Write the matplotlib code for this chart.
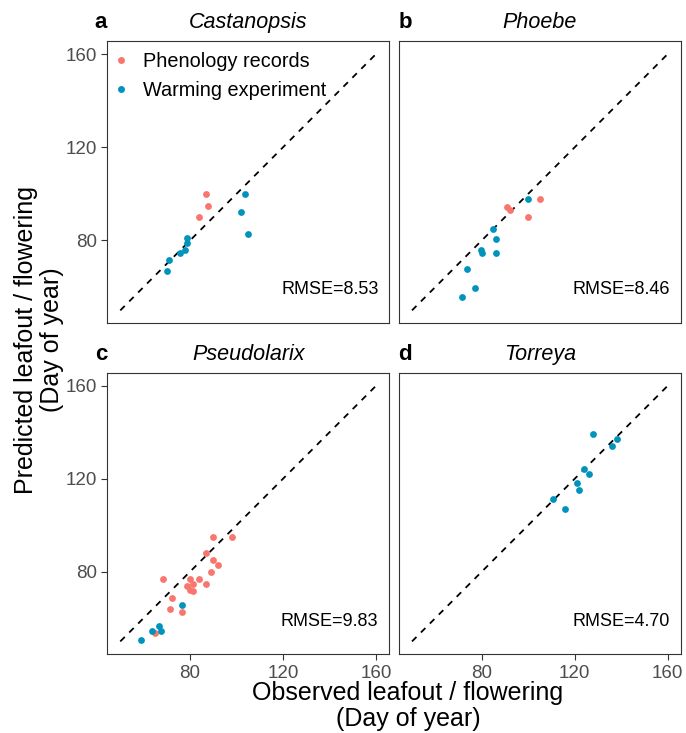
import matplotlib.pyplot as plt
from matplotlib.lines import Line2D

plt.rcParams['font.family'] = ['Liberation Sans', 'DejaVu Sans']

RED = '#F8766D'
BLUE = '#0094BD'

# --- data (observed DOY, predicted DOY) ---
a_rec_x = [86.9, 87.9, 83.9]
a_rec_y = [100.0, 94.9, 89.9]
a_exp_x = [103.8, 102.1, 104.9, 78.9, 78.9, 78.0, 75.7, 71.0, 70.0]
a_exp_y = [100.0, 92.0, 82.9, 80.9, 78.9, 75.9, 74.6, 71.7, 66.7]

b_rec_x = [104.9, 90.8, 92.2, 99.9]
b_rec_y = [97.8, 94.2, 93.2, 89.9]
b_exp_x = [99.9, 85.0, 86.0, 79.8, 80.0, 86.0, 73.8, 77.0, 71.7]
b_exp_y = [97.8, 84.9, 80.7, 76.0, 74.8, 74.8, 67.7, 59.8, 55.6]

c_rec_x = [90.0, 98.1, 86.9, 90.0, 92.0, 89.0, 68.5, 80.0, 83.9, 81.1,
           78.9, 86.9, 80.0, 81.1, 72.4, 71.4, 76.6, 64.8]
c_rec_y = [95.1, 95.1, 87.9, 85.0, 82.9, 79.9, 76.9, 76.9, 76.9, 74.7,
           73.8, 74.7, 72.1, 71.8, 68.8, 63.8, 62.7, 53.8]
c_exp_x = [76.6, 66.6, 67.6, 63.8, 58.9]
c_exp_y = [65.8, 56.6, 54.6, 54.6, 50.6]

d_rec_x = []
d_rec_y = []
d_exp_x = [128.0, 138.1, 136.2, 124.0, 126.0, 120.9, 122.0, 110.8, 116.0]
d_exp_y = [139.4, 137.2, 134.2, 124.2, 122.2, 118.2, 115.1, 111.1, 107.1]

letters = ['a', 'b', 'c', 'd']
species = ['Castanopsis', 'Phoebe', 'Pseudolarix', 'Torreya']
rmse = ['8.53', '8.46', '9.83', '4.70']
ticks = [80, 120, 160]

W, H = 686, 733
fig = plt.figure(figsize=(W / 100, H / 100), dpi=100)

# panel boxes in pixels: left, top, right, bottom
boxes = [(107.5, 41.2, 388.8, 323.2), (399.2, 41.2, 680.5, 323.2),
         (107.5, 373.0, 388.8, 654.2), (399.2, 373.0, 680.5, 654.2)]
letter_x = [101, 405, 101, 405]

panels = [(a_rec_x, a_rec_y, a_exp_x, a_exp_y),
          (b_rec_x, b_rec_y, b_exp_x, b_exp_y),
          (c_rec_x, c_rec_y, c_exp_x, c_exp_y),
          (d_rec_x, d_rec_y, d_exp_x, d_exp_y)]

for i, (l, t, r, b) in enumerate(boxes):
    ax = fig.add_axes([l / W, 1 - b / H, (r - l) / W, (b - t) / H])
    rx, ry, ex, ey = panels[i]
    ax.plot([50, 160], [50, 160], ls=(0, (3.5, 3.5)), color='black', lw=1.3, zorder=1)
    ax.scatter(rx, ry, s=24, color=RED, linewidths=0, zorder=3)
    ax.scatter(ex, ey, s=24, color=BLUE, linewidths=0, zorder=3)
    ax.set_xlim(44.5, 165.5)
    ax.set_ylim(44.5, 165.5)
    ax.set_xticks(ticks)
    ax.set_yticks(ticks)
    ax.tick_params(colors='#333333', labelcolor='#4D4D4D', labelsize=13.5,
                   length=4, width=0.8)
    if i < 2:
        ax.set_xticklabels([])
        ax.tick_params(axis='x', length=0)
    if i % 2 == 1:
        ax.set_yticklabels([])
        ax.tick_params(axis='y', length=0)
    for sp in ax.spines.values():
        sp.set_color('#333333')
        sp.set_linewidth(0.8)
    ax.text(0.963, 0.118, 'RMSE=' + rmse[i], transform=ax.transAxes,
            ha='right', va='center', fontsize=13)
    cx = (l + r) / 2
    fig.text(cx / W, 1 - (t - 18.5) / H, species[i], ha='center', va='center',
             fontsize=15.5, style='italic')
    fig.text(letter_x[i] / W, 1 - (t - 19) / H, letters[i], ha='center', va='center',
             fontsize=16, weight='bold')
    if i == 0:
        handles = [Line2D([], [], ls='none', marker='o', ms=5, color=RED, mec='none'),
                   Line2D([], [], ls='none', marker='o', ms=5, color=BLUE, mec='none')]
        ax.legend(handles, ['Phenology records', 'Warming experiment'],
                  loc='upper left', bbox_to_anchor=(-0.045, 1.01), frameon=False,
                  fontsize=14.3, handletextpad=0.5, labelspacing=0.5,
                  handlelength=1.2, borderaxespad=0.3)

fig.text(408 / W, 1 - 706 / H, 'Observed leafout / flowering\n(Day of year)',
         ha='center', va='center', fontsize=18, linespacing=1.15)
fig.text(39 / W, 1 - 340 / H, 'Predicted leafout / flowering\n(Day of year)',
         ha='center', va='center', fontsize=18, rotation=90, linespacing=1.15)

fig.savefig('out.png', dpi=100)
